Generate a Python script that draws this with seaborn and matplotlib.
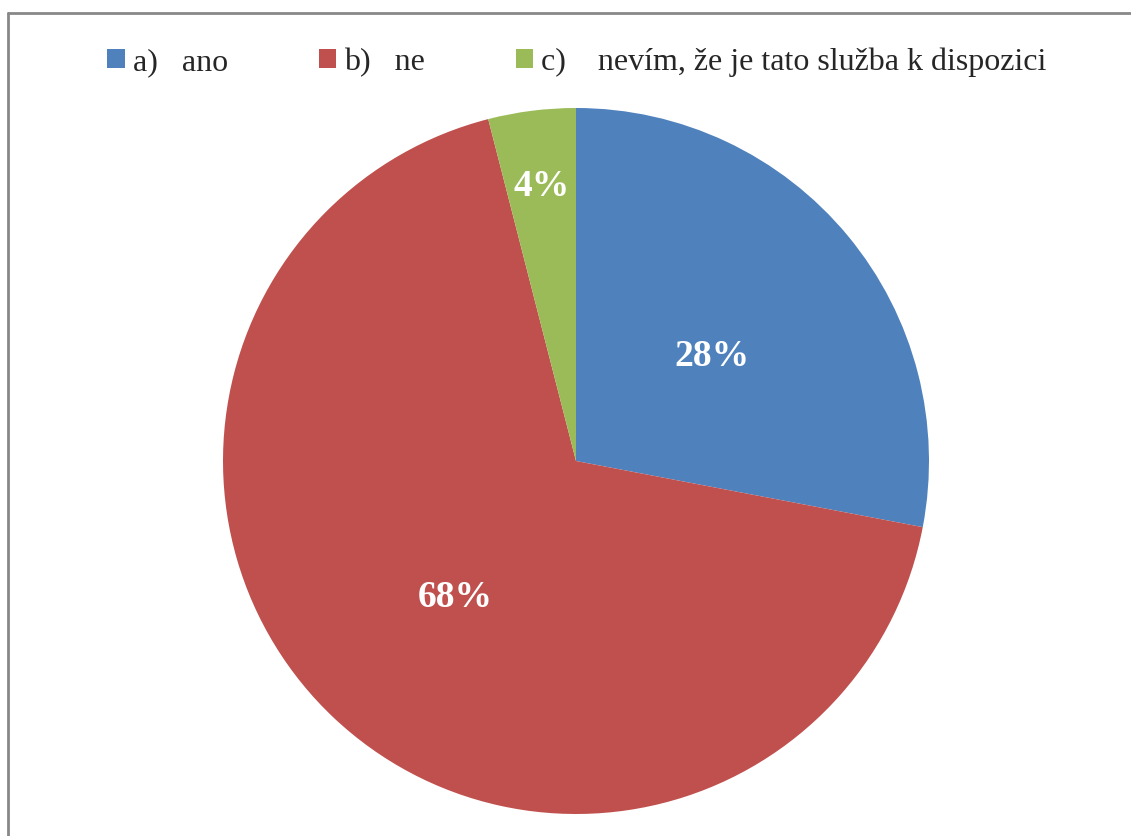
import numpy as np
import matplotlib
matplotlib.use("Agg")
import matplotlib.pyplot as plt
from matplotlib.patches import Patch
from matplotlib.lines import Line2D
import seaborn as sns

# survey answers
labels = ["a)   ano", "b)   ne", "c)    nevím, že je tato služba k dispozici"]
shares = [28, 68, 4]
colors = ["#4F81BD", "#C0504D", "#9BBB59"]

sns.set_theme(style="white")
plt.rcParams['font.family'] = ['Liberation Serif', 'DejaVu Serif']

W, H = 1131, 836
fig = plt.figure(figsize=(W / 100, H / 100), dpi=100)
fig.patch.set_facecolor("white")

# pie area in pixels: centre (576, 461), radius 353
cx, cy, r = 576, 461, 353
ax = fig.add_axes([(cx - r) / W, (H - cy - r) / H, 2 * r / W, 2 * r / H])

wedges, texts, autotexts = ax.pie(
    shares, colors=colors, startangle=90, counterclock=False,
    autopct=lambda p: f"{p:.0f}%", pctdistance=0.5,
    wedgeprops=dict(linewidth=0, edgecolor="none"),
    textprops=dict(color="white", fontsize=27, fontweight="bold"),
)
ax.set_xlim(-1, 1)
ax.set_ylim(-1, 1)
ax.set_aspect("equal")

# labels sit a little lower in the original
for t in autotexts[:2]:
    t.set_va("center_baseline")
    x, y = t.get_position()
    t.set_position((x, y - 0.01))

# small slice label sits further out
w = wedges[2]
mid = np.deg2rad((w.theta1 + w.theta2) / 2)
autotexts[2].set_position((0.785 * np.cos(mid), 0.785 * np.sin(mid)))

handles = [Patch(facecolor=c, edgecolor="none") for c in colors]
fig.legend(handles, labels, loc="center", bbox_to_anchor=(577 / W, 1 - 62 / H),
           ncol=3, frameon=False, fontsize=23, handlelength=0.54, handleheight=0.54,
           handletextpad=0.25, columnspacing=2.85, borderpad=0)

# chart frame (only top and left visible)
fig.add_artist(Line2D([8 / W, 8 / W], [0, 1 - 13 / H], transform=fig.transFigure,
                      color="#888888", lw=2))
fig.add_artist(Line2D([8 / W, 1], [1 - 13 / H, 1 - 13 / H], transform=fig.transFigure,
                      color="#888888", lw=2))

fig.savefig("out.png", dpi=100, facecolor="white")
